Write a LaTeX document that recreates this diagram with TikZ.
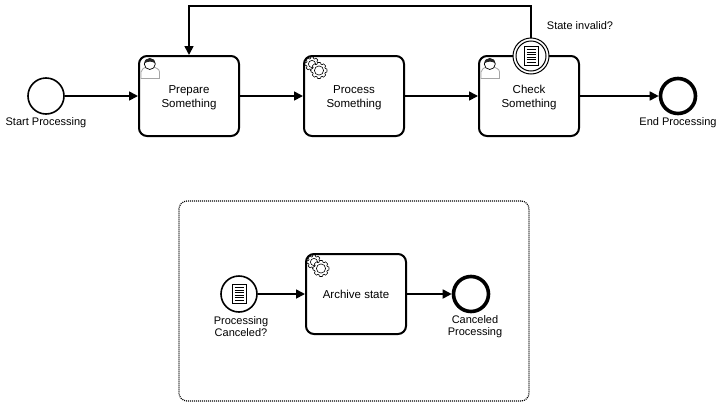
\documentclass[tikz,border=0pt]{standalone}
\usepackage{fontspec}
\setmainfont{Liberation Sans}
\usetikzlibrary{arrows.meta, positioning}

\tikzset{
  flow/.style={line width=1.7pt, -{Triangle[length=9pt, width=9pt]}},
  task/.style={draw, line width=2pt, fill=white, rounded corners=8pt, minimum width=100pt, minimum height=80pt, align=center, inner sep=0pt, font=\fontsize{11.5}{14}\selectfont},
  startevent/.style={draw, circle, line width=1.6pt, fill=white, minimum size=36pt, inner sep=0pt},
  ringevent/.style={draw, circle, line width=1pt, fill=white, minimum size=36pt, inner sep=0pt},
  endevent/.style={draw, circle, line width=3.6pt, fill=white, minimum size=35pt, inner sep=0pt},
  caption/.style={align=center, inner sep=0pt, font=\fontsize{11}{12.5}\selectfont},
  pics/usericon/.style={code={
    \draw[gray!70, line width=.8pt, fill=white] (3,23.5) -- (3,17) .. controls (3,14) and (6.5,13) .. (8,12) -- (16,12) .. controls (18,13) and (21.5,14) .. (21.5,17) -- (21.5,23.5) -- cycle;
    \draw[line width=.7pt, fill=white] (11.8,9) circle (5.5pt);
    \fill[black!85] (6.3,8.5) .. controls (6.3,1.5) and (17.3,1.5) .. (17.3,8.5) .. controls (15,6) and (9,6) .. (6.3,8.5) -- cycle;
  }},
  pics/gearicon/.style={code={
    \foreach \gx/\gy/\gr in {9/9/7, 16/15.5/8} {
      \draw[line width=.6pt, fill=white] plot[samples=65, domain=0:360, variable=\t]
        ({\gx+(\gr-1.4*(cos(8*\t)<0))*cos(\t)}, {\gy+(\gr-1.4*(cos(8*\t)<0))*sin(\t)}) -- cycle;
      \draw[line width=.6pt] (\gx,\gy) circle ({\gr-3.4});
    }
  }},
  pics/docicon/.style={code={
    \draw[line width=.8pt, fill=white] (-7,-9.5) rectangle (7,9.5);
    \foreach \ly in {-6.5,-4,-1.5,1,3.5,6} \draw[line width=.7pt] (-4.5,\ly) -- (4.5,\ly);
  }},
}

\begin{document}
\begin{tikzpicture}[x=1pt, y=-1pt]
  \useasboundingbox (0,0) rectangle (723,407);

  % main process
  \node[startevent] (start) at (46,96) {};
  \node[task] (prepare) at (189,96) {\rule{0pt}{12pt}Prepare\\Something};
  \node[task] (process) at (354,96) {\rule{0pt}{12pt}Process\\Something};
  \node[task] (check) at (529,96) {\rule{0pt}{12pt}Check\\Something};
  \node[endevent] (finish) at (678,96) {};
  \node[caption] (startlabel) at (46,122.5) {Start Processing};
  \node[caption] (finishlabel) at (678,122.5) {End Processing};

  \pic at (prepare.north west) {usericon};
  \pic at (process.north west) {gearicon};
  \pic at (check.north west) {usericon};

  \draw[flow] (start) -- (prepare);
  \draw[flow] (prepare) -- (process);
  \draw[flow] (process) -- (check);
  \draw[flow] (check) -- (finish);

  % boundary event and loop back
  \node[ringevent] (invalid) at (531,56) {};
  \node[draw, circle, line width=1pt, minimum size=30pt, inner sep=0pt] (invalidinner) at (invalid) {};
  \pic at (invalid) {docicon};
  \node[caption] (invalidlabel) at (580,25.5) {State invalid?};
  \coordinate (looptop) at (360,6);
  \draw[flow] (invalid) |- (looptop) -| (prepare);

  % event sub process
  \node[draw, line width=1.2pt, dash pattern=on 1pt off 1pt, rounded corners=8pt, minimum width=350pt, minimum height=200pt, inner sep=0pt] (subprocess) at (354,301) {};
  \node[startevent] (canceled) at (239,294) {};
  \pic at (canceled) {docicon};
  \node[task] (archive) at (356,294) {\rule{0pt}{9pt}Archive state};
  \node[endevent] (cancelend) at (471,294) {};
  \node[caption] (canceledlabel) at (241,326.5) {Processing\\Canceled?};
  \node[caption] (cancelendlabel) at (475,326.5) {Canceled\\Processing};
  \pic at (archive.north west) {gearicon};

  \draw[flow] (canceled) -- (archive);
  \draw[flow] (archive) -- (cancelend);
\end{tikzpicture}
\end{document}
